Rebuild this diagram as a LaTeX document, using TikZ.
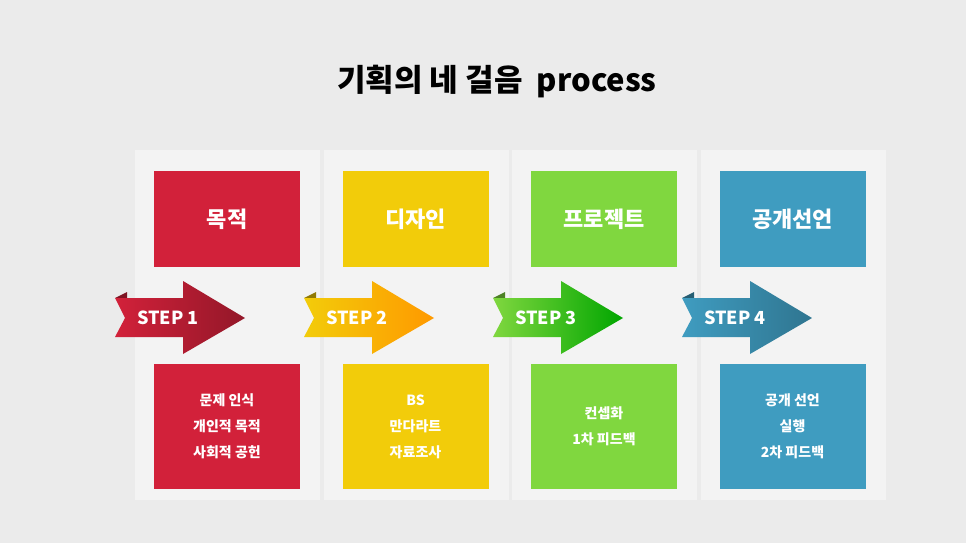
\documentclass[tikz,border=0pt]{standalone}
\usepackage{fontspec}
\setmainfont{Noto Sans CJK KR}
\usepackage{xcolor}
\definecolor{cred}{HTML}{D2213A}
\definecolor{cyel}{HTML}{F2CC0A}
\definecolor{cgrn}{HTML}{80D73F}
\definecolor{cblu}{HTML}{3F9CC0}
\definecolor{bg}{HTML}{EBEBEB}
\begin{document}
\begin{tikzpicture}
          [x=1pt,y=-1pt,
          head/.style={minimum width=146pt,minimum height=96pt,inner sep=0pt,text=white,font=\bfseries\fontsize{22}{24}\selectfont},
          body/.style={minimum width=146pt,minimum height=125pt,inner sep=0pt,text=white,align=center,font=\bfseries\fontsize{14}{26}\selectfont},
          steplbl/.style={text=white,font=\bfseries\fontsize{18}{20}\selectfont}]

            \fill [bg] (0,0) rectangle (966,543);
            \node (title) at (497,82) {\bfseries\fontsize{31}{33}\selectfont 기획의 네 걸음\ \ process};

            % columns
            \foreach \i/\c/\hd/\tx/\hi in
              {0/cred/목적/{문제 인식\\개인적 목적\\사회적 공헌}/cred!70!black,
               1/cyel/디자인/{BS\\만다라트\\자료조사}/orange!80!yellow,
               2/cgrn/프로젝트/{컨셉화\\1차 피드백}/green!65!black,
               3/cblu/공개선언/{공개 선언\\실행\\2차 피드백}/cblu!75!black} {
              \fill [white!40!bg] ({135+188.5*\i},150) rectangle ({320+188.5*\i},500);
              \node (h\i) [head,fill=\c] at ({227+188.5*\i},219) {\hd};
              \node (b\i) [body,fill=\c] at ({227+188.5*\i},426.5) {\tx};
              \fill [\c!60!black] ({115+189*\i},298) -- ({127+189*\i},292) -- ({127+189*\i},300) -- cycle;
              \shade [left color=\c, right color=\hi]
                ({115+189*\i},298) -- ({183+189*\i},298) -- ({183+189*\i},281)
                -- ({245+189*\i},318) -- ({183+189*\i},354) -- ({183+189*\i},337)
                -- ({115+189*\i},337) -- ({125+189*\i},318) -- cycle;
              \node (s\i) [steplbl] at ({168+189*\i},318) {STEP \pgfmathparse{int(\i+1)}\pgfmathresult};
            }

        \end{tikzpicture}
\end{document}
